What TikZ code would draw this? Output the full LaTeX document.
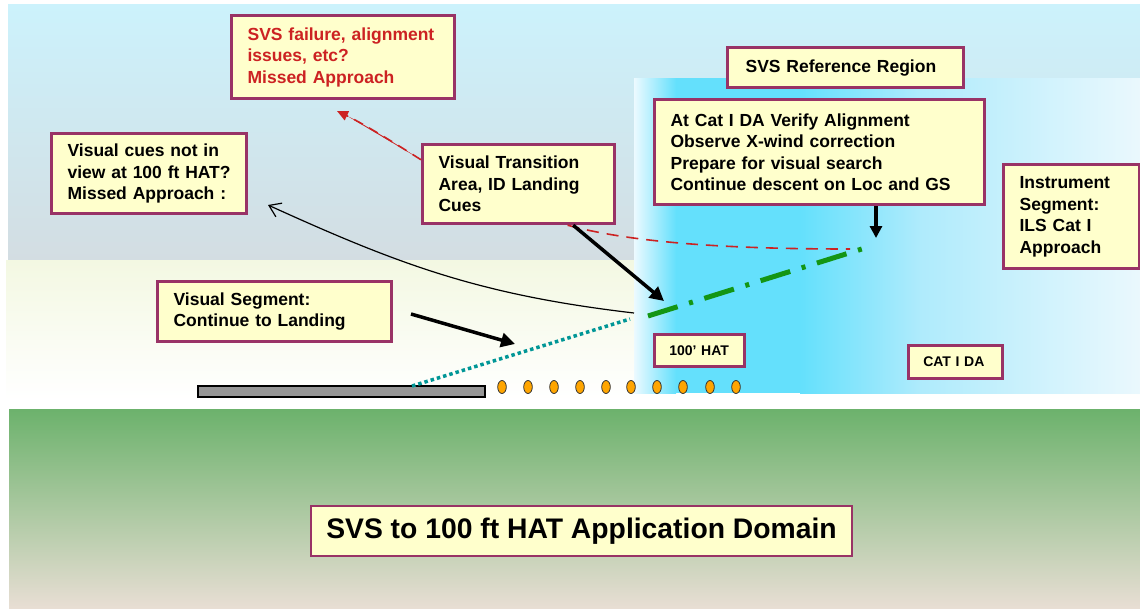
\documentclass[tikz,border=0pt]{standalone}
\usepackage{fontspec}
\setmainfont{Liberation Sans}
\usetikzlibrary{arrows.meta,calc}
\definecolor{bord}{RGB}{153,51,102}
\definecolor{boxfill}{RGB}{255,255,204}
\definecolor{redtxt}{RGB}{204,34,34}
\definecolor{skytop}{RGB}{204,242,252}
\definecolor{skybot}{RGB}{211,221,226}
\definecolor{lowtop}{RGB}{243,248,226}
\definecolor{grtop}{RGB}{108,178,108}
\definecolor{grbot}{RGB}{232,222,212}
\definecolor{cyanreg}{RGB}{100,224,252}
\definecolor{cyanedge}{RGB}{236,250,255}
\definecolor{cyanmid}{RGB}{175,235,252}
\definecolor{cyanpale}{RGB}{234,248,253}
\definecolor{tealdot}{RGB}{0,150,150}
\definecolor{greenln}{RGB}{20,150,20}
\definecolor{lightor}{RGB}{255,165,0}
\definecolor{runway}{RGB}{150,150,150}
\tikzset{
  box/.style={draw=bord, fill=boxfill, line width=3.2pt, anchor=north west,
    inner ysep=0pt, inner xsep=16pt, align=left,
    font=\bfseries\fontsize{17.5}{21.5}\selectfont},
  smallbox/.style={draw=bord, fill=boxfill, line width=2.5pt, anchor=north west,
    inner ysep=0pt, inner xsep=15pt, align=left,
    font=\bfseries\fontsize{14}{16}\selectfont},
  thickarrow/.style={line width=3.5pt, -{Triangle[length=14pt,width=14pt]}},
  downarrow/.style={line width=3.5pt, -{Triangle[length=12pt,width=12pt]}},
  thinarrow/.style={line width=1.2pt, -{Straight Barb[length=11pt,width=15pt]}},
  reddash/.style={draw=redtxt, line width=1.6pt, dash pattern=on 12pt off 8pt},
  redarrow/.style={draw=redtxt, line width=1.6pt, dash pattern=on 10pt off 7pt,
    -{Triangle[length=11pt,width=10pt]}, fill=redtxt},
  tealline/.style={draw=tealdot, line width=3.5pt, dash pattern=on 3.5pt off 3pt},
  greenline/.style={draw=greenln, line width=5pt, dash pattern=on 31pt off 12pt on 4pt off 12pt},
  lamp/.style={draw=black!80, fill=lightor, line width=0.8pt}
}
\begin{document}
\begin{tikzpicture}[x=1pt,y=-1pt]
\useasboundingbox (0,0) rectangle (1140,608);
\fill[white] (0,0) rectangle (1140,608);
% backgrounds
\shade[top color=skytop, bottom color=skybot] (8,4) rectangle (1140,260);
\shade[top color=lowtop, bottom color=white] (6,260) rectangle (1140,400);
\shade[top color=grtop, bottom color=grbot] (9,409) rectangle (1140,608);
% SVS reference region
\shade[left color=cyanedge, right color=cyanreg] (634,78) rectangle (676,393);
\fill[cyanreg] (675.5,78) rectangle (800.5,393);
\shade[left color=cyanreg, right color=cyanmid] (800,78) rectangle (920.5,393);
\shade[left color=cyanmid, right color=cyanpale] (920,78) rectangle (1140,393);
% runway and lights
\draw[fill=runway, line width=1.5pt] (198,386) rectangle (485,397);
\foreach \x [count=\i] in {502,528,554,580,606,631,657,683,710,736}
  \draw[lamp] (\x,387) ellipse (4.3pt and 6.5pt);
% boxes
\node[box, text=redtxt, minimum width=223pt, minimum height=83pt, text width=191pt] (fail) at (230,14)
  {\mbox{SVS failure, alignment}\\issues, etc?\\Missed Approach};
\node[box, minimum width=195pt, minimum height=80pt, text width=163pt] (cues) at (50,132)
  {Visual cues not in\\\mbox{view at 100 ft HAT?}\\\mbox{Missed Approach :}};
\node[box, minimum width=192pt, minimum height=79pt, text width=160pt] (trans) at (421,143)
  {Visual Transition\\Area, ID Landing\\Cues};
\node[box, minimum width=234pt, minimum height=60pt, text width=202pt] (seg) at (156,280)
  {Visual Segment:\\\mbox{Continue to Landing}};
\node[box, inner xsep=18pt, minimum width=236pt, minimum height=40pt, text width=200pt] (ref) at (726,46)
  {SVS Reference Region};
\node[box, minimum width=330pt, minimum height=105pt, text width=298pt] (cat) at (653,98)
  {At Cat I DA Verify Alignment\\Observe X-wind correction\\Prepare for visual search\\\mbox{Continue descent on Loc and GS}};
\node[box, minimum width=136pt, minimum height=104pt, text width=104pt] (instr) at (1002,163)
  {Instrument\\Segment:\\ILS Cat I\\Approach};
\node[smallbox, minimum width=90pt, minimum height=32pt, text width=60pt] (hat) at (653,333)
  {\mbox{100’ HAT}};
\node[smallbox, minimum width=94pt, minimum height=33pt, text width=64pt] (cda) at (907,344)
  {\mbox{CAT I DA}};
\node[draw=bord, fill=boxfill, line width=2pt, anchor=north west, minimum width=541pt,
  minimum height=50pt, font=\bfseries\fontsize{28.3}{32}\selectfont] (dom) at (310,505)
  {SVS to 100 ft HAT Application Domain};
% coordinates
\coordinate (td0) at (412,386);
\coordinate (td1) at (630,319);
\coordinate (gd0) at (648,316);
\coordinate (gd1) at (865,248);
\coordinate (hatpt) at (634,313);
\coordinate (cuestip) at (268,205);
\coordinate (redtip) at (337,111);
\coordinate (daend) at (850,249);
\coordinate (transtip) at (664,301);
\coordinate (segstart) at (411,314);
\coordinate (segtip) at (515,344);
\coordinate (downstart) at (876,206);
\coordinate (downtip) at (876,238);
% flight path
\draw[tealline] (td0) -- (td1);
\draw[greenline] (gd0) -- (gd1);
% connectors
\draw[reddash] (trans.-40) .. controls (640,245) and (750,249) .. (daend);
\draw[redarrow] (trans.166) .. controls (390,140) and (360,122) .. (redtip);
\draw[thinarrow] (hatpt) .. controls (480,295) and (400,265) .. (cuestip);
\draw[thickarrow] (trans.-37) -- (transtip);
\draw[thickarrow] (segstart) -- (segtip);
\draw[downarrow] (downstart) -- (downtip);
\end{tikzpicture}
\end{document}
